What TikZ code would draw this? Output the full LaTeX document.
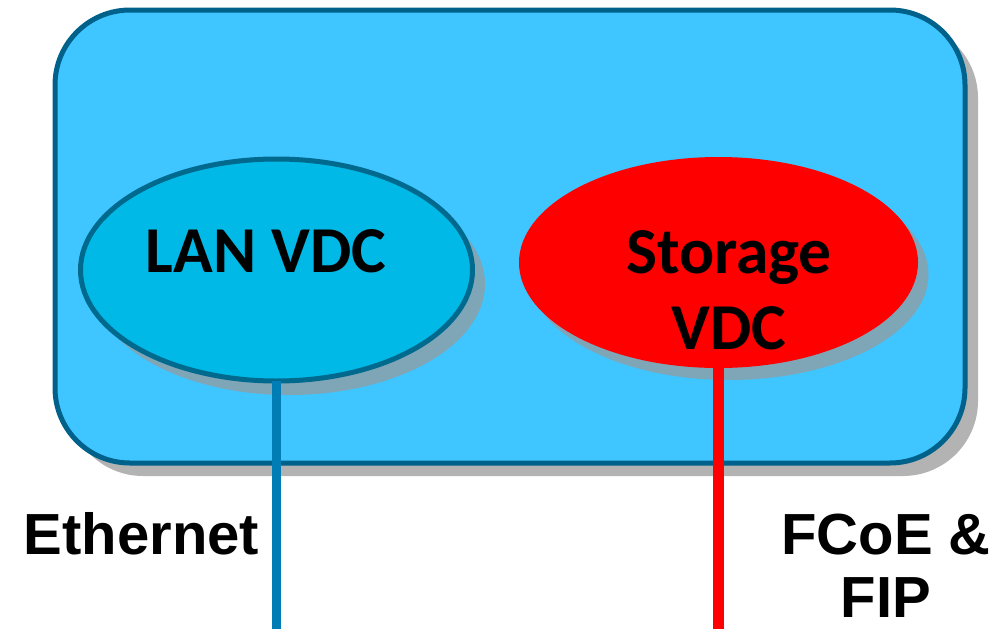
\documentclass[tikz,border=0pt]{standalone}
\usepackage{fontspec}
\setmainfont{Liberation Sans}
\newfontfamily\calfont{Carlito}
\usetikzlibrary{shapes.geometric}

\definecolor{chassisfill}{HTML}{3FC5FF}
\definecolor{chassisedge}{HTML}{00618A}
\definecolor{chassisshade}{HTML}{B3B3B3}
\definecolor{lanfill}{HTML}{00B9E6}
\definecolor{lanedge}{HTML}{006A8E}
\definecolor{ovalshade}{HTML}{7FA6B7}
\definecolor{ethline}{HTML}{007DB5}
\definecolor{sanred}{HTML}{FF0000}

\tikzset{
  vdc/.style={ellipse, inner sep=0pt, outer sep=0pt},
  vdclabel/.style={font=\calfont\bfseries\fontsize{65.5}{76}\selectfont, align=center, inner sep=0pt, anchor=base},
  linklabel/.style={font=\bfseries\fontsize{58}{63}\selectfont, align=center, inner sep=0pt, anchor=base},
}

\begin{document}
\begin{tikzpicture}[x=1pt, y=-1pt]
  \useasboundingbox (0,0) rectangle (990,629);

  % switch chassis with its drop shadow
  \fill[chassisshade, rounded corners=75pt] (68,23) rectangle (978,476);
  \draw[fill=chassisfill, draw=chassisedge, line width=5pt, rounded corners=75pt]
    (55,10) rectangle (965,463);

  % oval shadows
  \fill[ovalshade] (289,284) ellipse [x radius=196, y radius=111];
  \fill[ovalshade] (729,274.5) ellipse [x radius=199.5, y radius=105.5];

  % virtual device contexts
  \node[vdc, fill=lanfill, draw=lanedge, line width=5pt,
        minimum width=392pt, minimum height=222pt] (lan) at (276.5,270) {};
  \node[vdc, fill=sanred, minimum width=399pt, minimum height=211pt]
        (san) at (718.5,262.5) {};

  % multi-line labels are placed by the baseline of their last line
  \node[vdclabel] (lanlbl) at (266,272) {LAN VDC};
  \node[vdclabel] (sanlbl) at (729,349) {Storage\\VDC};

  % uplinks
  \coordinate (ethend) at (276.5,629);
  \coordinate (fcoeend) at (718.5,629);
  \draw[ethline, line width=9.5pt] (lan.south) -- (ethend);
  \draw[sanred, line width=11pt] (san.south) -- (fcoeend);

  % link labels
  \node[linklabel] (ethlbl) at (141.5,554) {Ethernet};
  \node[linklabel] (fcoelbl) at (886,617) {FCoE \&\\FIP};
\end{tikzpicture}
\end{document}
